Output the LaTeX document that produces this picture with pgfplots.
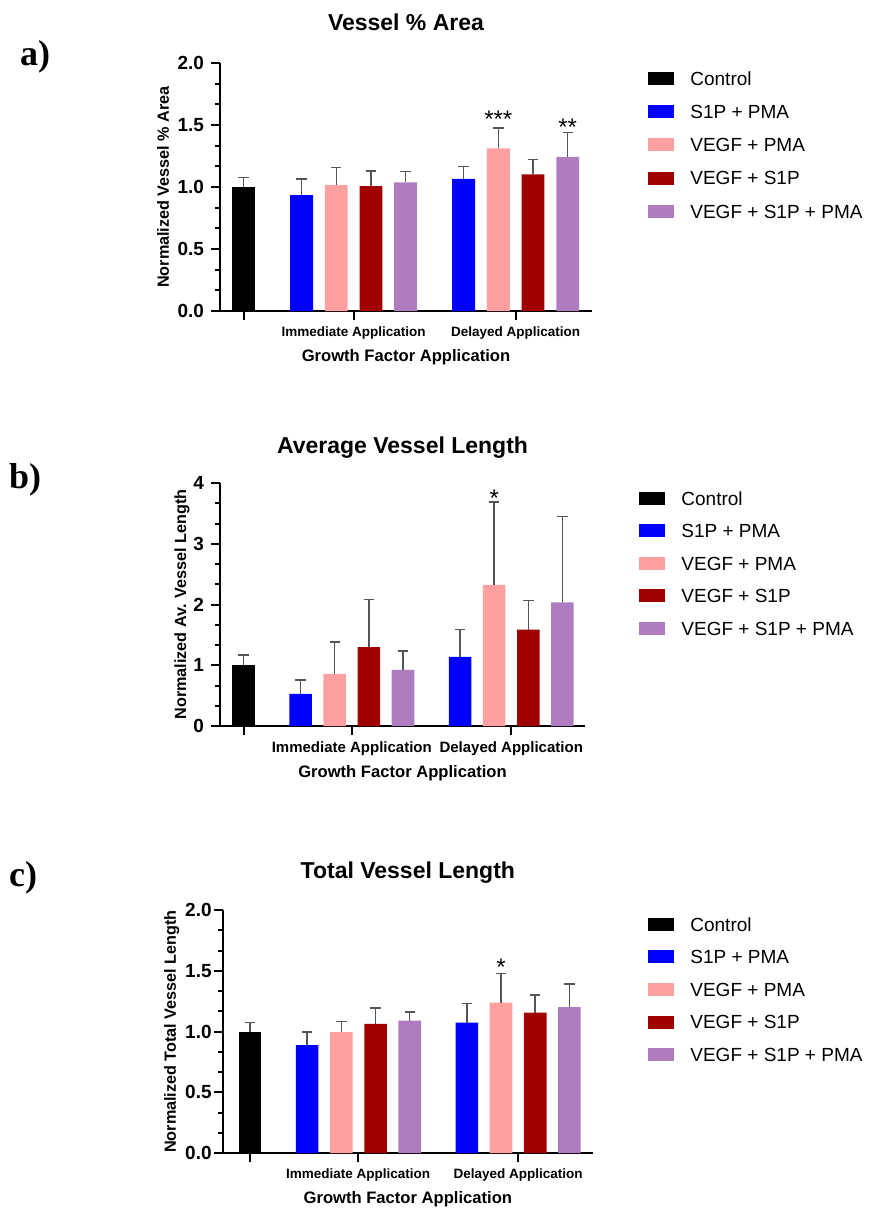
\documentclass[border=0pt]{standalone}
\usepackage{fontspec}
\setmainfont{Liberation Sans}
\newfontfamily\panelfont{Liberation Serif}
\usepackage{pgfplots}
\pgfplotsset{compat=1.18}

\definecolor{cblue}{RGB}{0,0,255}
\definecolor{cpink}{RGB}{255,160,160}
\definecolor{cred}{RGB}{160,0,0}
\definecolor{cpurple}{RGB}{176,124,192}
\definecolor{errgray}{RGB}{85,85,85}

\tikzset{stars/.style={anchor=base, yshift=-6.5pt, font=\fontsize{12}{13}\selectfont}}

\pgfplotsset{
  panel/.style={
    scale only axis,
    anchor=south west,
    clip=false,
    axis x line*=bottom,
    axis y line*=left,
    axis line style={line width=1pt},
    ybar, bar width=0.66,
    ymin=0,
    xtick={0,3.17,7.84},
    xticklabels={{},Immediate Application,Delayed Application},
    tick align=outside,
    major tick length=4.5pt,
    minor tick length=2.5pt,
    tick style={line width=1pt, black},
    minor y tick num=2,
    /pgf/number format/assume math mode=true,
    yticklabel style={font=\fontsize{9.5}{11}\selectfont\bfseries},
    xticklabel style={font=\fontsize{6.75}{8}\selectfont\bfseries},
    xlabel={Growth Factor Application},
    title style={anchor=base, font=\fontsize{11.5}{13}\selectfont\bfseries},
    xlabel style={anchor=center, font=\fontsize{8.3}{10}\selectfont\bfseries},
    ylabel style={anchor=center, font=\fontsize{8.1}{10}\selectfont\bfseries},
    legend cell align=left,
    legend image code/.code={\fill[##1] (0pt,-2.35pt) rectangle (13pt,4.15pt);},
    legend style={draw=none, fill=none, inner sep=0pt, anchor=north west,
      font=\fontsize{9.5}{11}\selectfont,
      nodes={inner sep=0pt, text height=7pt, text depth=2pt},
      /tikz/every odd column/.append style={column sep=8pt}},
  },
  gbar/.style={fill=#1, draw=none, bar shift=0pt,
    error bars/y dir=plus, error bars/y explicit,
    error bars/error bar style={line width=0.75pt, errgray},
    error bars/error mark options={rotate=90, mark size=2.6pt, line width=0.75pt, errgray}},
}

\begin{document}
\begin{tikzpicture}
\path[use as bounding box] (0,0) rectangle (439pt,-604.5pt);

\node[anchor=base west, font=\fontsize{18}{20}\selectfont\panelfont\bfseries] at (6.5pt,-33pt) {a)};
\node[anchor=base west, font=\fontsize{18}{20}\selectfont\panelfont\bfseries] at (1pt,-244pt) {b)};
\node[anchor=base west, font=\fontsize{18}{20}\selectfont\panelfont\bfseries] at (1pt,-443pt) {c)};

% a) Vessel % Area
\begin{axis}[panel,
  at={(110pt,-155.5pt)}, width=186pt, height=124pt,
  xmin=-0.68, xmax=10.04, ymax=2,
  ytick={0,0.5,1,1.5,2},
  yticklabel style={/pgf/number format/.cd, fixed, fixed zerofill, precision=1},
  title={Vessel \% Area},
  title style={at={([yshift=10pt]axis description cs:0.5,1)}},
  xlabel style={at={([yshift=-23pt]axis description cs:0.5,0)}},
  ylabel={Normalized Vessel \% Area},
  ylabel style={at={([xshift=-28.5pt]axis description cs:0,0.5)}},
  legend style={at={(1.1505,0.9685)}, row sep=7.61pt},
]
\addplot[gbar=black] coordinates {(0,1.0) +- (0,0.075)};
\addplot[gbar=cblue] coordinates {(1.67,0.935) +- (0,0.13) (6.34,1.065) +- (0,0.10)};
\addplot[gbar=cpink] coordinates {(2.67,1.016) +- (0,0.14) (7.34,1.312) +- (0,0.164)};
\addplot[gbar=cred] coordinates {(3.67,1.008) +- (0,0.121) (8.34,1.102) +- (0,0.118)};
\addplot[gbar=cpurple] coordinates {(4.67,1.038) +- (0,0.088) (9.34,1.242) +- (0,0.199)};
\legend{Control, S1P + PMA, VEGF + PMA, VEGF + S1P, VEGF + S1P + PMA}
\node[stars] at (axis cs:7.34,1.581) {***};
\node[stars] at (axis cs:9.34,1.519) {**};
\end{axis}

% b) Average Vessel Length
\begin{axis}[panel,
  at={(110pt,-363pt)}, width=182.5pt, height=121.5pt,
  xmin=-0.69, xmax=10.0, ymax=4,
  ytick={0,1,2,3,4},
  xticklabel style={font=\fontsize{7.5}{9}\selectfont\bfseries},
  title={Average Vessel Length},
  title style={at={([yshift=9pt]axis description cs:0.5,1)}},
  xlabel style={at={([yshift=-23.5pt]axis description cs:0.5,0)}},
  ylabel={Normalized Av. Vessel Length},
  ylabel style={at={([xshift=-19pt]axis description cs:0,0.5)}},
  legend style={at={(1.148,0.9678)}, row sep=7.26pt},
]
\addplot[gbar=black] coordinates {(0,1.0) +- (0,0.166)};
\addplot[gbar=cblue] coordinates {(1.67,0.528) +- (0,0.231) (6.34,1.139) +- (0,0.446)};
\addplot[gbar=cpink] coordinates {(2.67,0.858) +- (0,0.523) (7.34,2.322) +- (0,1.364)};
\addplot[gbar=cred] coordinates {(3.67,1.298) +- (0,0.787) (8.34,1.585) +- (0,0.484)};
\addplot[gbar=cpurple] coordinates {(4.67,0.924) +- (0,0.308) (9.34,2.036) +- (0,1.414)};
\legend{Control, S1P + PMA, VEGF + PMA, VEGF + S1P, VEGF + S1P + PMA}
\node[stars] at (axis cs:7.34,3.835) {*};
\end{axis}

% c) Total Vessel Length
\begin{axis}[panel,
  at={(111.35pt,-576.5pt)}, width=185.15pt, height=121.5pt,
  xmin=-0.8, xmax=10.03, ymax=2,
  ytick={0,0.5,1,1.5,2},
  yticklabel style={xshift=2.5pt, /pgf/number format/.cd, fixed, fixed zerofill, precision=1},
  xtick={0,3.16,7.84},
  title={Total Vessel Length},
  title style={at={([yshift=10pt]axis description cs:0.5,1)}},
  xlabel style={at={([yshift=-23pt]axis description cs:0.5,0)}},
  ylabel={Normalized Total Vessel Length},
  ylabel style={at={([xshift=-25.5pt]axis description cs:0,0.5)}},
  legend style={at={(1.1485,0.9718)}, row sep=7.26pt},
]
\addplot[gbar=black] coordinates {(0,1.0) +- (0,0.073)};
\addplot[gbar=cblue] coordinates {(1.67,0.888) +- (0,0.107) (6.34,1.074) +- (0,0.156)};
\addplot[gbar=cpink] coordinates {(2.67,0.995) +- (0,0.087) (7.34,1.238) +- (0,0.241)};
\addplot[gbar=cred] coordinates {(3.67,1.063) +- (0,0.132) (8.34,1.156) +- (0,0.145)};
\addplot[gbar=cpurple] coordinates {(4.67,1.09) +- (0,0.069) (9.34,1.2) +- (0,0.189)};
\legend{Control, S1P + PMA, VEGF + PMA, VEGF + S1P, VEGF + S1P + PMA}
\node[stars] at (axis cs:7.34,1.572) {*};
\end{axis}
\end{tikzpicture}
\end{document}
